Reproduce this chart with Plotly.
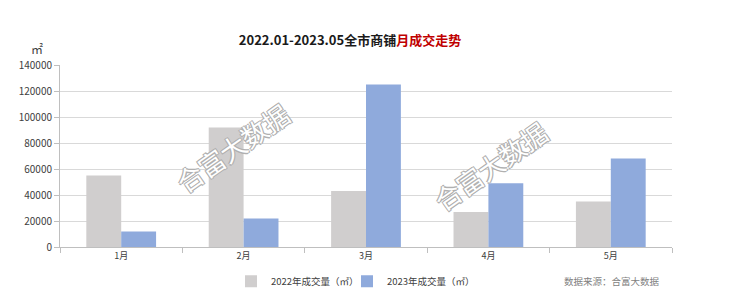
import plotly.graph_objects as go

months = ["1月", "2月", "3月", "4月", "5月"]
vol_2022 = [55000, 92000, 43000, 27000, 35000]
vol_2023 = [12000, 22000, 125000, 49000, 68000]
name_2022 = "2022年成交量（㎡）"
name_2023 = "2023年成交量（㎡）"
y_ticks = [0, 20000, 40000, 60000, 80000, 100000, 120000, 140000]
y_tick_text = [str(v) for v in y_ticks]

FONT = "Noto Sans CJK SC"

fig = go.Figure()
fig.add_trace(go.Bar(x=months, y=vol_2022, name=name_2022, marker_color="#D0CECE",
                     marker_line_width=0, legend="legend"))
fig.add_trace(go.Bar(x=months, y=vol_2023, name=name_2023, marker_color="#8FAADC",
                     marker_line_width=0, legend="legend2"))

legend_common = dict(orientation="h", xref="container", yref="container",
                     xanchor="left", y=0.05, yanchor="middle",
                     font=dict(size=9.5, color="#404040"), itemwidth=30,
                     bgcolor="rgba(0,0,0,0)")

fig.update_layout(
    width=740, height=296,
    margin=dict(l=60, r=68, t=65, b=49, autoexpand=False),
    paper_bgcolor="white", plot_bgcolor="white",
    font=dict(family=FONT, size=10, color="#404040"),
    barmode="group", bargap=0.43, bargroupgap=0,
    showlegend=True,
    legend=dict(x=231 / 740, **legend_common),
    legend2=dict(x=347 / 740, **legend_common),
    title=dict(
        text="<b>2022.01-2023.05全市商铺<span style='color:#C00000'>月成交走势</span></b>",
        x=0.473, xanchor="center", y=0.865, yanchor="middle",
        font=dict(family=FONT, size=13, color="#1a1a1a")),
)
fig.update_xaxes(type="category", tickson="boundaries", ticks="outside", ticklen=5,
                 tickcolor="#BFBFBF", showline=True, linecolor="#BFBFBF", linewidth=1,
                 showgrid=False, automargin=False, tickfont=dict(size=9, color="#404040"))
fig.update_yaxes(range=[0, 140000], tickvals=y_ticks, ticktext=y_tick_text,
                 ticks="outside", ticklen=5, automargin=False,
                 tickcolor="#BFBFBF", showline=True, linecolor="#BFBFBF", linewidth=1,
                 showgrid=True, gridcolor="#D9D9D9", gridwidth=1, zeroline=False,
                 tickfont=dict(size=10, color="#404040"))

# unit label
fig.add_annotation(text="㎡", xref="paper", yref="paper", x=-0.037, y=1.09,
                   xanchor="center", yanchor="middle",
                   showarrow=False, font=dict(size=12, color="#404040"))
# source
fig.add_annotation(text="数据来源：合富大数据", xref="paper", yref="paper",
                   x=0.984, xanchor="right", y=-0.185, yanchor="middle",
                   showarrow=False, font=dict(size=9.5, color="#7F7F7F"))
# watermarks
wm_shadow = "1px 1px 0 #b0b0b0, -1px -1px 0 #b0b0b0, 1px -1px 0 #b0b0b0, -1px 1px 0 #b0b0b0"
for xp, yp in [(0.281, 0.549), (0.703, 0.45)]:
    fig.add_annotation(text="合富大数据", xref="paper", yref="paper", x=xp, y=yp,
                       xanchor="center", yanchor="middle",
                       showarrow=False, textangle=-35,
                       font=dict(size=26, color="white", shadow=wm_shadow))

fig.write_html("out.html")
